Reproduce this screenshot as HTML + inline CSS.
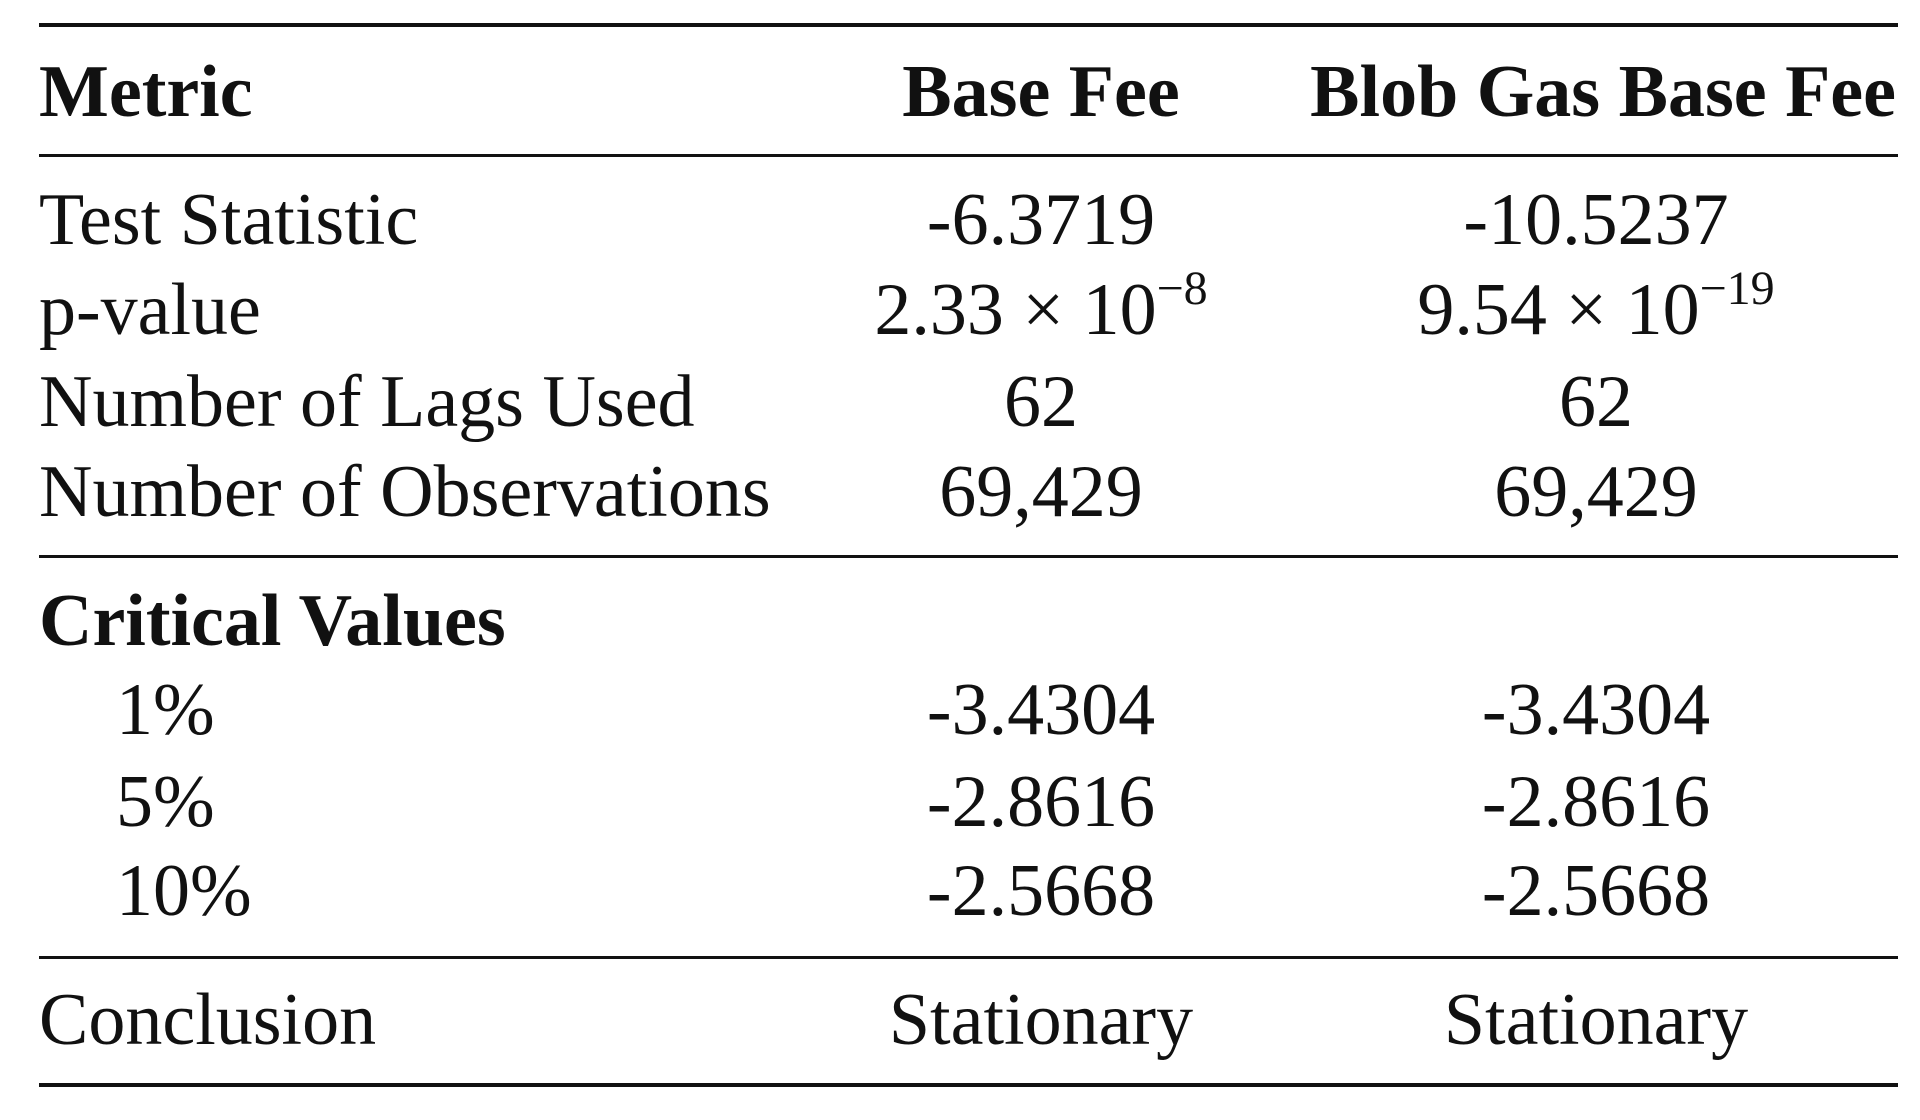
<!DOCTYPE html>
<html><head><meta charset="utf-8">
<style>
html,body{margin:0;padding:0;background:#fff;}
body{width:1920px;height:1120px;position:relative;overflow:hidden;font-family:"Liberation Serif",serif;color:#111;}
.rule{position:absolute;left:39px;width:1859px;background:#111;}
.t{position:absolute;height:80px;line-height:80px;font-size:74px;white-space:nowrap;}
.l{left:39px;}
.ind{left:116px;}
.c1{left:791px;width:500px;text-align:center;}
.c2{left:1346px;width:500px;text-align:center;}
.b{font-weight:bold;}
sup{font-size:48px;vertical-align:0;position:relative;top:-30px;}
</style></head>
<body>
<div class="rule" style="top:23px;height:4px"></div>
<div class="t l b" style="top:52px">Metric</div>
<div class="t c1 b" style="top:52px">Base Fee</div>
<div class="t c2 b" style="top:52px;left:1196px;width:700px;text-align:right">Blob Gas Base Fee</div>
<div class="rule" style="top:154px;height:3px"></div>

<div class="t l" style="top:180px">Test Statistic</div>
<div class="t c1" style="top:180px">-6.3719</div>
<div class="t c2" style="top:180px">-10.5237</div>

<div class="t l" style="top:270px">p-value</div>
<div class="t c1" style="top:270px">2.33 × 10<sup>−8</sup></div>
<div class="t c2" style="top:270px">9.54 × 10<sup>−19</sup></div>

<div class="t l" style="top:362px">Number of Lags Used</div>
<div class="t c1" style="top:362px">62</div>
<div class="t c2" style="top:362px">62</div>

<div class="t l" style="top:452px">Number of Observations</div>
<div class="t c1" style="top:452px">69,429</div>
<div class="t c2" style="top:452px">69,429</div>

<div class="rule" style="top:555px;height:3px"></div>

<div class="t l b" style="top:581px">Critical Values</div>

<div class="t ind" style="top:670px">1%</div>
<div class="t c1" style="top:670px">-3.4304</div>
<div class="t c2" style="top:670px">-3.4304</div>

<div class="t ind" style="top:762px">5%</div>
<div class="t c1" style="top:762px">-2.8616</div>
<div class="t c2" style="top:762px">-2.8616</div>

<div class="t ind" style="top:851px">10%</div>
<div class="t c1" style="top:851px">-2.5668</div>
<div class="t c2" style="top:851px">-2.5668</div>

<div class="rule" style="top:956px;height:3px"></div>

<div class="t l" style="top:980px">Conclusion</div>
<div class="t c1" style="top:980px">Stationary</div>
<div class="t c2" style="top:980px">Stationary</div>

<div class="rule" style="top:1083px;height:4px"></div>
</body></html>
